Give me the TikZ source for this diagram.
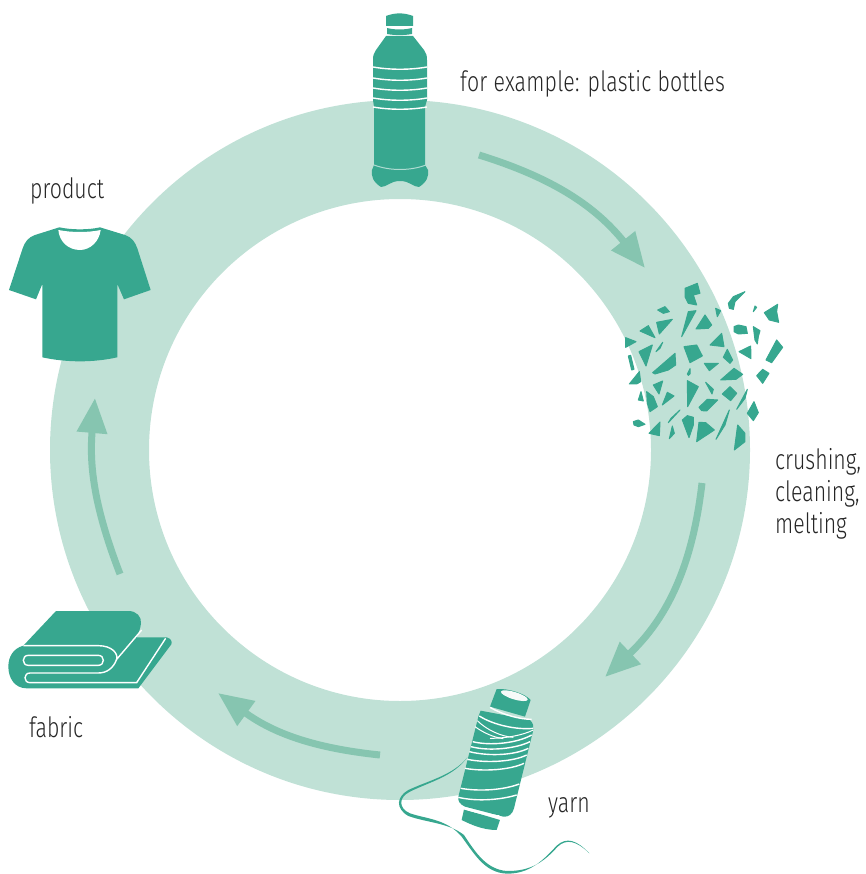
\documentclass[tikz,border=0pt]{standalone}
\usepackage{fontspec}
\setmainfont[FakeStretch=0.76]{Fira Sans Light}
\usetikzlibrary{arrows.meta}
\definecolor{ringgreen}{HTML}{C0E1D6}
\definecolor{arrowgreen}{HTML}{86C5B0}
\definecolor{iconteal}{HTML}{37A78F}
\tikzset{
    cyclearrow/.style={draw=arrowgreen, line width=7pt, -{Triangle[length=35pt,width=29pt,fill=arrowgreen]}},
    icon/.style={fill=iconteal},
    shard/.style={fill=iconteal, draw=iconteal, line width=1pt, line join=round},
    cutline/.style={draw=white, line width=1.4pt},
    thincut/.style={draw=white, line width=1pt},
    caption/.style={anchor=base west, inner sep=0pt, font=\fontsize{28}{34}\selectfont, text=black!85},
}

\begin{document}
\begin{tikzpicture}[x=1pt,y=-1pt]
	\useasboundingbox (0,0) rectangle (865,874);
	% ring
	\fill[ringgreen, even odd rule] (400,450) circle[radius=350] (400,450) circle[radius=251];

	% arrows
	\coordinate (a1) at (479,155);
	\coordinate (b1) at (645,268);
	\coordinate (a2) at (702,483);
	\coordinate (b2) at (605,677);
	\coordinate (a3) at (380,755);
	\coordinate (b3) at (218,693);
	\coordinate (a4) at (120,574);
	\coordinate (b4) at (95,398);
	\draw[cyclearrow] (a1) to[bend left=17] (b1);
	\draw[cyclearrow] (a2) to[bend left=20] (b2);
	\draw[cyclearrow] (a3) to[bend left=15] (b3);
	\draw[cyclearrow] (a4) to[bend left=13] (b4);

	% bottle
	\fill[icon] (386,16) .. controls (395,12.5) and (404,12.5) .. (413,16) -- (413,26) -- (386,26) -- cycle;
	\fill[icon] (387,28) .. controls (395,30) and (404,30) .. (412,28) -- (412,34) .. controls (404,35.5) and (395,35.5) .. (387,34) -- cycle;
	\fill[icon] (386,36) -- (413,36) -- (424,50) .. controls (426,53) and (427,55) .. (427,60) -- (427,100) -- (425,107) -- (425,165) -- (428,170) .. controls (429,176) and (427,182) .. (419,187) .. controls (413,187) and (410,181) .. (400,181) .. controls (390,181) and (387,187) .. (381,187) .. controls (373,182) and (371,176) .. (372,170) -- (374,165) -- (374,107) -- (373,100) -- (373,60) .. controls (373,55) and (374,53) .. (376,50) -- cycle;
	\foreach \y in {67,78,88,98,107}{
		\draw[cutline] (373,\y) .. controls (390,\y+3) and (410,\y+3) .. (427,\y);
	}
	\draw[white!60!iconteal, line width=1pt] (374,165) .. controls (390,171) and (410,171) .. (426,165);

	% shards
	\begin{scope}[shift={(610,270)},x=0.3333pt,y=-0.3333pt]
		\draw[shard] (225,55)--(262,40)--(270,70)--(250,75)--(260,105)--(235,100)--(225,80)--cycle;
		\draw[shard] (355,100)--(370,80)--(405,65)--(375,95)--(370,118)--(358,115)--cycle;
		\draw[shard] (430,125)--(435,108)--(440,112)--cycle;
		\draw[shard] (463,128)--(503,103)--(500,125)--(506,157)--(478,150)--cycle;
		\draw[shard] (143,120)--(165,110)--(178,125)--(160,130)--cycle;
		\draw[shard] (215,200)--(235,125)--(258,122)--cycle;
		\draw[shard] (317,115)--(332,122)--(322,140)--cycle;
		\draw[shard] (258,177)--(285,135)--(305,165)--(295,175)--cycle;
		\draw[shard] (90,183)--(115,167)--(135,203)--cycle;
		\draw[shard] (140,157)--(187,148)--(148,192)--cycle;
		\draw[shard] (47,203)--(78,215)--(47,232)--cycle;
		\draw[shard] (372,170)--(385,165)--(408,170)--(412,190)--(385,192)--(372,185)--cycle;
		\draw[shard] (430,170)--(450,182)--(445,200)--(442,222)--(435,210)--cycle;
		\draw[shard] (300,225)--(335,190)--(342,230)--cycle;
		\draw[shard] (138,245)--(158,217)--(150,235)--cycle;
		\draw[shard] (87,245)--(127,225)--(108,288)--cycle;
		\draw[shard] (222,230)--(260,225)--(277,258)--(240,278)--cycle;
		\draw[shard] (55,258)--(62,256)--(72,298)--(65,300)--cycle;
		\draw[shard] (128,308)--(195,250)--(197,285)--(175,300)--(135,312)--cycle;
		\draw[shard] (340,262)--(352,238)--(368,270)--(360,280)--cycle;
		\draw[shard] (387,245)--(422,228)--(423,266)--cycle;
		\draw[shard] (468,270)--(500,210)--(518,232)--(485,278)--cycle;
		\draw[shard] (283,280)--(325,280)--(298,302)--cycle;
		\draw[shard] (232,312)--(240,296)--(240,312)--(235,316)--cycle;
		\draw[shard] (58,342)--(88,305)--(92,335)--(80,342)--cycle;
		\draw[shard] (332,330)--(372,295)--(398,313)--(378,328)--cycle;
		\draw[shard] (440,317)--(458,298)--(477,310)--(458,340)--cycle;
		\draw[shard] (130,345)--(158,333)--(147,372)--cycle;
		\draw[shard] (232,332)--(265,350)--(233,410)--cycle;
		\draw[shard] (287,337)--(310,358)--(306,372)--cycle;
		\draw[shard] (85,390)--(93,365)--(100,393)--cycle;
		\draw[shard] (337,372)--(360,350)--(380,370)--(362,392)--cycle;
		\draw[shard] (110,365)--(130,380)--(142,410)--(120,425)--(112,400)--cycle;
		\draw[shard] (157,405)--(172,367)--(192,378)--cycle;
		\draw[shard] (380,418)--(412,358)--(405,385)--cycle;
		\draw[shard] (267,412)--(292,388)--(323,390)--(290,423)--(275,422)--cycle;
		\draw[shard] (175,458)--(210,420)--(183,445)--cycle;
		\draw[shard] (412,430)--(432,395)--(445,428)--(430,452)--cycle;
		\draw[shard] (318,508)--(358,420)--(345,465)--cycle;
		\draw[shard] (70,455)--(85,450)--(105,463)--(85,470)--(72,465)--cycle;
		\draw[shard] (117,490)--(150,456)--(148,497)--cycle;
		\draw[shard] (178,506)--(187,468)--(193,490)--cycle;
		\draw[shard] (217,450)--(232,437)--(250,442)--(250,465)--(237,503)--cycle;
		\draw[shard] (260,515)--(267,457)--(287,458)--(313,480)--cycle;
		\draw[shard] (373,540)--(383,465)--(405,490)--(405,515)--cycle;
	\end{scope}

	% spool
	\begin{scope}[shift={(390,680)},x=0.3333pt,y=-0.3333pt]
		\fill[icon] (232,232) .. controls (190,290) and (120,305) .. (60,335) .. controls (25,352) and (25,385) .. (60,400) .. controls (110,417) and (170,417) .. (215,470) .. controls (255,525) and (285,578) .. (350,581) .. controls (420,582) and (460,540) .. (500,497) .. controls (530,470) and (560,480) .. (598,520) .. controls (560,483) and (530,475) .. (503,500) .. controls (460,548) and (420,574) .. (350,573) .. controls (290,568) and (258,520) .. (222,465) .. controls (175,428) and (110,428) .. (55,408) .. controls (15,385) and (20,350) .. (55,330) .. controls (120,300) and (190,285) .. (232,232) -- cycle;
		\fill[icon] (320,27) .. controls (355,25) and (405,40) .. (422,60) -- (405,110) -- (300,80) -- cycle;
		\fill[white!85!ringgreen, rotate around={-17:(373,47)}] (373,47) ellipse[x radius=42, y radius=11];
		\fill[icon] (272,92) -- (420,120) .. controls (430,130) and (432,140) .. (430,150) -- (372,385) .. controls (368,402) and (355,412) .. (340,410) -- (225,380) .. controls (208,372) and (203,362) .. (205,350) -- (265,110) -- cycle;
		\fill[icon] (222,388) -- (330,420) -- (320,450) .. controls (280,450) and (245,435) .. (215,420) -- cycle;
		\draw[cutline] (300,82) .. controls (340,105) and (390,118) .. (425,118);
		\draw[cutline] (268,108) .. controls (310,135) and (380,150) .. (430,145);
		\draw[thincut] (262,122) .. controls (290,150) and (335,170) .. (370,172);
		\draw[thincut] (255,140) .. controls (280,158) and (310,172) .. (340,176);
		\draw[thincut] (300,175) .. controls (350,175) and (400,165) .. (430,150);
		\draw[cutline] (248,185) .. controls (300,198) and (380,190) .. (425,165);
		\draw[cutline] (243,200) .. controls (300,215) and (380,205) .. (420,185);
		\draw[cutline] (238,215) .. controls (300,230) and (375,225) .. (415,205);
		\draw[cutline] (232,238) .. controls (290,250) and (370,245) .. (410,225);
		\draw[cutline] (225,265) .. controls (280,275) and (360,270) .. (402,250);
		\draw[cutline] (212,325) .. controls (270,335) and (340,330) .. (388,312);
		\draw[cutline] (205,352) .. controls (260,365) and (330,360) .. (380,345);
		\draw[cutline] (215,384) .. controls (250,395) and (290,405) .. (328,408);
	\end{scope}

	% fabric
	\begin{scope}[shift={(0,600)},x=0.3333pt,y=-0.3333pt]
		\fill[icon] (168,33) -- (385,33) .. controls (410,33) and (425,50) .. (423,70) .. controls (422,85) and (415,100) .. (410,112) -- (500,112) .. controls (512,115) and (518,125) .. (514,133) -- (415,265) -- (80,265) .. controls (45,265) and (25,235) .. (25,200) .. controls (25,170) and (40,145) .. (70,137) -- cycle;
		\draw[cutline] (70,137) -- (295,137) .. controls (335,137) and (355,160) .. (350,178) -- (425,90);
		\draw[cutline] (85,166) -- (295,166) .. controls (315,166) and (315,196) .. (295,196) -- (85,196) .. controls (65,196) and (65,166) .. (85,166) -- cycle;
		\draw[cutline] (350,178) .. controls (340,205) and (320,219) .. (295,219) -- (90,219) .. controls (70,219) and (70,248) .. (90,248) -- (410,248) -- (497,115);
	\end{scope}

	% shirt
	\begin{scope}[shift={(0,210)},x=0.3333pt,y=-0.3333pt]
		\fill[icon] (178,52) .. controls (215,60) and (265,60) .. (300,52) -- (375,75) .. controls (395,82) and (405,95) .. (412,115) -- (452,240) -- (372,268) -- (352,222) -- (352,442) .. controls (280,458) and (200,458) .. (127,442) -- (127,222) -- (108,268) -- (27,240) -- (68,115) .. controls (75,95) and (85,82) .. (105,75) -- cycle;
		\fill[white] (175,60) .. controls (215,68) and (265,68) .. (302,60) .. controls (298,95) and (270,120) .. (240,120) .. controls (205,120) and (178,95) .. (175,60) -- cycle;
	\end{scope}

	% labels
	\node[caption] (bottles) at (460,92) {\addfontfeature{LetterSpace=0.8}for example: plastic bottles};
	\node[caption] (product) at (30,199) {product};
	\node[caption] (crushing) at (775,469) {crushing,};
	\node[caption] (cleaning) at (775,501) {cleaning,};
	\node[caption] (melting) at (775,533) {melting};
	\node[caption] (fabric) at (29,737) {fabric};
	\node[caption] (yarn) at (548,812) {yarn};
\end{tikzpicture}
\end{document}
